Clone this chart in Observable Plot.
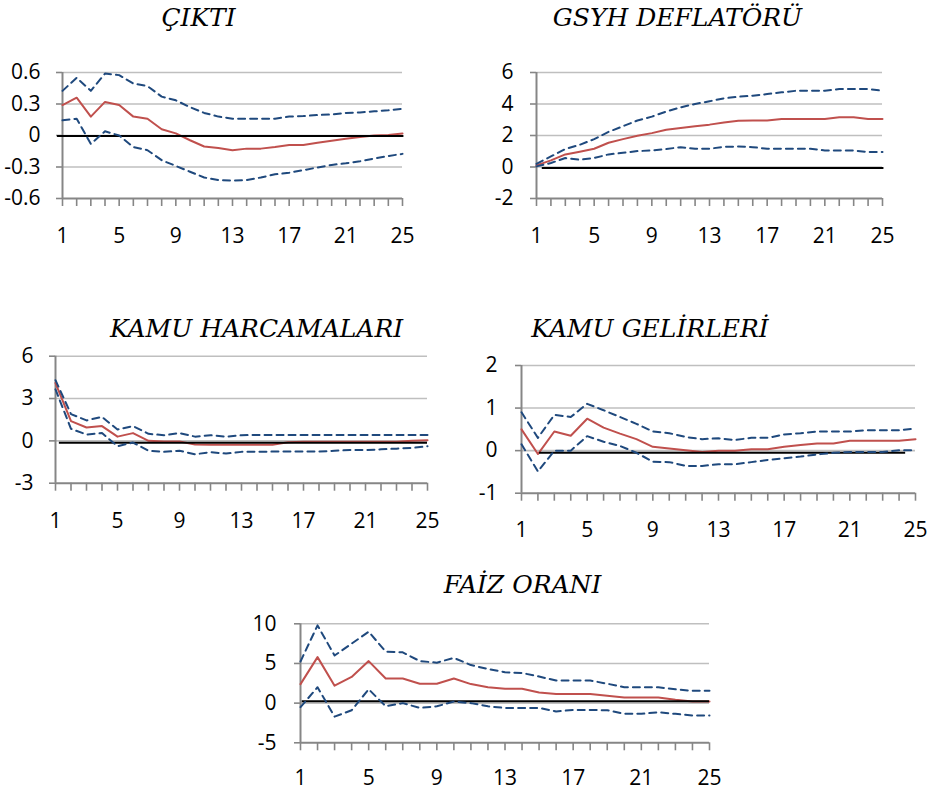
<!DOCTYPE html>
<html><head><meta charset="utf-8">
<script src="https://cdn.jsdelivr.net/npm/d3@7"></script>
<script src="https://cdn.jsdelivr.net/npm/@observablehq/plot@0.6"></script>
<style>
body{margin:0;background:#fff;width:932px;height:792px;position:relative;overflow:hidden}
.panel{position:absolute}
.title{position:absolute;font-family:'DejaVu Serif',serif;font-style:italic;font-weight:normal;font-size:25px;line-height:25px;color:#000;white-space:nowrap;transform:translateX(-50%)}
</style></head><body>
<script>
// ---- data ----
const horizon = [1,2,3,4,5,6,7,8,9,10,11,12,13,14,15,16,17,18,19,20,21,22,23,24,25];
const xTickLabels = [1,5,9,13,17,21,25];

const titles = ["ÇIKTI", "GSYH DEFLATÖRÜ", "KAMU HARCAMALARI", "KAMU GELİRLERİ", "FAİZ ORANI"];

const yTicksCikti = [-0.6,-0.3,0,0.3,0.6];
const yTicksDeflator = [-2,0,2,4,6];
const yTicksHarcama = [-3,0,3,6];
const yTicksGelir = [-1,0,1,2];
const yTicksFaiz = [-5,0,5,10];

const ciktiIrf   = [0.29,0.36,0.18,0.32,0.29,0.18,0.16,0.06,0.02,-0.045,-0.105,-0.12,-0.14,-0.125,-0.125,-0.11,-0.09,-0.09,-0.07,-0.05,-0.03,-0.015,0,0.005,0.02];
const ciktiUpper = [0.425,0.55,0.425,0.59,0.575,0.495,0.47,0.37,0.335,0.27,0.215,0.18,0.16,0.16,0.16,0.16,0.18,0.185,0.195,0.2,0.215,0.22,0.23,0.24,0.255];
const ciktiLower = [0.145,0.16,-0.08,0.04,0.0,-0.11,-0.14,-0.235,-0.29,-0.345,-0.4,-0.425,-0.43,-0.425,-0.4,-0.37,-0.355,-0.33,-0.305,-0.28,-0.265,-0.245,-0.22,-0.195,-0.175];

const deflatorIrf   = [0.1,0.42,0.8,0.97,1.16,1.54,1.77,1.98,2.15,2.36,2.48,2.59,2.69,2.82,2.93,2.95,2.95,3.05,3.05,3.05,3.05,3.16,3.16,3.05,3.05];
const deflatorUpper = [0.2,0.67,1.14,1.41,1.77,2.23,2.59,2.95,3.2,3.52,3.79,4.0,4.17,4.36,4.46,4.53,4.63,4.74,4.84,4.84,4.84,4.95,4.95,4.95,4.84];
const deflatorLower = [0.04,0.25,0.57,0.46,0.57,0.8,0.9,1.01,1.05,1.14,1.26,1.16,1.16,1.28,1.3,1.26,1.16,1.16,1.16,1.16,1.05,1.05,1.05,0.95,0.95];

const harcamaIrf   = [4.1,1.4,0.95,1.05,0.3,0.55,0.0,-0.05,-0.05,-0.25,-0.28,-0.28,-0.28,-0.28,-0.28,-0.1,-0.07,-0.07,-0.07,-0.07,-0.07,-0.07,-0.07,0.0,0.05];
const harcamaUpper = [4.3,1.9,1.45,1.7,0.8,1.05,0.5,0.4,0.55,0.3,0.4,0.3,0.4,0.42,0.42,0.42,0.42,0.42,0.42,0.42,0.42,0.42,0.42,0.42,0.42];
const harcamaLower = [3.65,0.85,0.45,0.55,-0.38,-0.12,-0.7,-0.78,-0.7,-0.95,-0.8,-0.9,-0.78,-0.78,-0.76,-0.76,-0.76,-0.76,-0.7,-0.65,-0.65,-0.6,-0.55,-0.5,-0.38];

const gelirIrf   = [0.5,-0.08,0.45,0.35,0.75,0.54,0.4,0.27,0.09,0.05,0.01,-0.03,0,0,0.03,0.03,0.09,0.13,0.17,0.17,0.23,0.23,0.23,0.23,0.27];
const gelirUpper = [0.9,0.3,0.84,0.79,1.1,0.95,0.79,0.63,0.45,0.41,0.32,0.27,0.29,0.25,0.3,0.3,0.38,0.41,0.45,0.45,0.45,0.48,0.48,0.48,0.52];
const gelirLower = [0.15,-0.49,0,0,0.34,0.21,0.11,-0.05,-0.26,-0.27,-0.36,-0.36,-0.32,-0.32,-0.27,-0.22,-0.18,-0.14,-0.09,-0.05,-0.03,-0.03,-0.03,0.01,0.01];

const faizIrf   = [2.4,5.8,2.2,3.3,5.3,3.1,3.1,2.45,2.45,3.1,2.4,2.0,1.8,1.8,1.35,1.15,1.15,1.15,0.92,0.72,0.72,0.72,0.42,0.2,0.2];
const faizUpper = [5.25,9.8,6.0,7.5,9.0,6.5,6.4,5.3,5.1,5.7,4.8,4.3,3.9,3.8,3.35,2.85,2.85,2.85,2.45,2.0,2.0,2.0,1.75,1.55,1.55];
const faizLower = [-0.5,2.0,-1.7,-0.9,1.75,-0.4,0,-0.6,-0.4,0.2,0,-0.4,-0.6,-0.6,-0.6,-1.05,-0.85,-0.85,-0.9,-1.35,-1.35,-1.15,-1.35,-1.55,-1.55];

// span of the black zero reference line (in horizon units)
const zeroFrom = [0.65, 1.4, 1.25, 2.1, 1.1];
const zeroTo   = [25.1, 25.1, 25.0, 24.4, 25.0];

// ---- drawing ----
const RED = "#C0504D", BLUE = "#1F497D", GRID = "#BFBFBF", AXIS = "#868686";

function addTitle(text, cx, baseline) {
  const d = document.createElement("div");
  d.className = "title";
  d.textContent = text;
  d.style.left = cx + "px";
  d.style.top = (baseline - 21.2) + "px";
  document.body.appendChild(d);
}

function panel(cfg) {
  const {left, top, width, height, ml, mr, mt, mb, yTicks, irf, upper, lower, idx, ypad, xpad, zdy} = cfg;
  const yDomain = [yTicks[0], yTicks[yTicks.length - 1]];
  const data = horizon.map((h, i) => ({h, irf: irf[i], up: upper[i], lo: lower[i]}));
  const zero = [{y: 0, x1: zeroFrom[idx], x2: zeroTo[idx]}];
  const p = Plot.plot({
    width, height,
    marginLeft: ml, marginRight: mr, marginTop: mt, marginBottom: mb,
    x: {domain: [1, 25], label: null},
    y: {domain: yDomain, label: null},
    style: {fontFamily: "'Open Sans', sans-serif", fontSize: "21px", color: "#000", background: "transparent", overflow: "visible"},
    marks: [
      Plot.gridY(yTicks.slice(1), {stroke: GRID, strokeOpacity: 1, strokeWidth: 1.6}),
      Plot.axisY(yTicks, {tickSize: 6, tickPadding: ypad, stroke: AXIS, strokeWidth: 1.6, tickFormat: d => String(d), fontSize: 21, label: null}),
      Plot.axisX(horizon, {tickSize: 8, tickFormat: () => "", stroke: AXIS, strokeWidth: 1.6, label: null}),
      Plot.axisX(xTickLabels, {tickSize: 0, tickPadding: xpad, tickFormat: d => String(d), fontSize: 21, label: null}),
      Plot.ruleX([1], {stroke: AXIS, strokeWidth: 2}),
      Plot.ruleY([yDomain[0]], {stroke: AXIS, strokeWidth: 2}),
      Plot.line(data, {x: "h", y: "irf", stroke: RED, strokeWidth: 2}),
      Plot.ruleY(zero, {y: "y", x1: "x1", x2: "x2", stroke: "#000", strokeWidth: 2, dy: zdy}),
      Plot.line(data, {x: "h", y: "up", stroke: BLUE, strokeWidth: 2, strokeDasharray: "7,5"}),
      Plot.line(data, {x: "h", y: "lo", stroke: BLUE, strokeWidth: 2, strokeDasharray: "7,5"})
    ]
  });
  const wrap = document.createElement("div");
  wrap.className = "panel";
  wrap.style.left = left + "px";
  wrap.style.top = top + "px";
  wrap.appendChild(p);
  document.body.appendChild(wrap);
}

panel({idx: 0, left: 0, top: 50, width: 440, height: 200, ml: 62, mr: 38, mt: 22, mb: 52,
  yTicks: yTicksCikti, irf: ciktiIrf, upper: ciktiUpper, lower: ciktiLower, ypad: 16, xpad: 29.5, zdy: 0.5});
panel({idx: 1, left: 480, top: 50, width: 452, height: 200, ml: 56, mr: 50, mt: 22, mb: 52,
  yTicks: yTicksDeflator, irf: deflatorIrf, upper: deflatorUpper, lower: deflatorLower, ypad: 17, xpad: 29.5, zdy: 1});
panel({idx: 2, left: 0, top: 340, width: 440, height: 200, ml: 55, mr: 13, mt: 15.7, mb: 57.3,
  yTicks: yTicksHarcama, irf: harcamaIrf, upper: harcamaUpper, lower: harcamaLower, ypad: 16, xpad: 30, zdy: 2});
panel({idx: 3, left: 450, top: 340, width: 482, height: 200, ml: 71, mr: 17, mt: 25, mb: 47.3,
  yTicks: yTicksGelir, irf: gelirIrf, upper: gelirUpper, lower: gelirLower, ypad: 18, xpad: 29, zdy: 2});
panel({idx: 4, left: 240, top: 600, width: 480, height: 192, ml: 60, mr: 11, mt: 23.3, mb: 49.7,
  yTicks: yTicksFaiz, irf: faizIrf, upper: faizUpper, lower: faizLower, ypad: 18, xpad: 27, zdy: -2});

addTitle(titles[0], 198.5, 26);
addTitle(titles[1], 677.5, 26);
addTitle(titles[2], 256.5, 337);
addTitle(titles[3], 650, 337);
addTitle(titles[4], 522.5, 593);
</script>
</body></html>
